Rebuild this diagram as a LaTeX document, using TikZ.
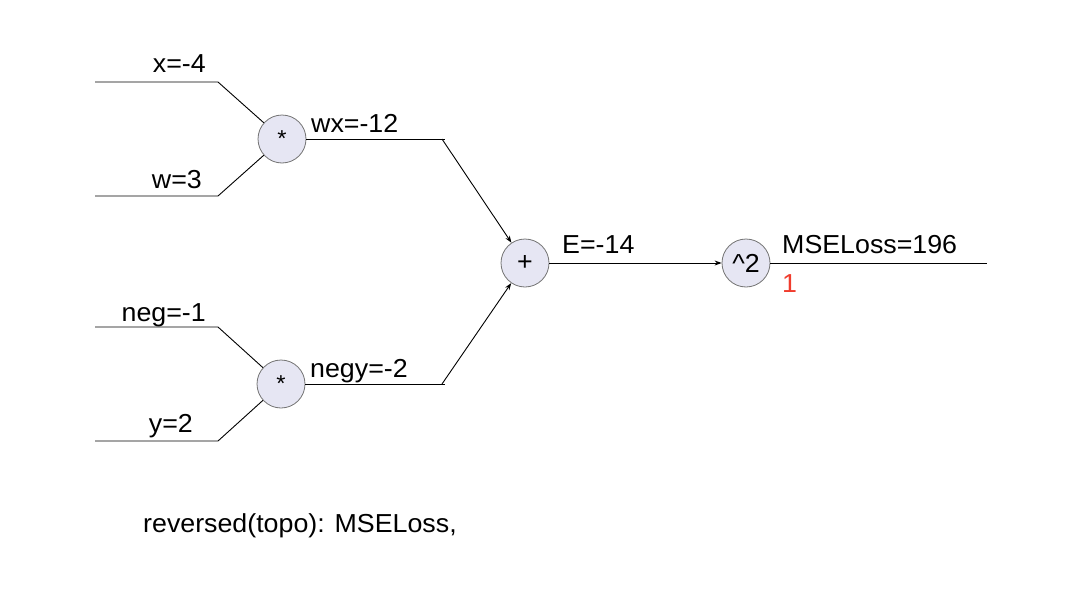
\documentclass[tikz,border=0pt]{standalone}
\usepackage{fontspec}
\setmainfont{Liberation Sans}[FakeStretch=1.03]
\usetikzlibrary{arrows.meta}
\definecolor{opfill}{HTML}{E6E6F3}
\definecolor{opdraw}{HTML}{737373}
\definecolor{gradred}{HTML}{F03C2D}
\tikzset{
  opnode/.style={circle, draw=opdraw, fill=opfill, line width=0.8pt, minimum size=48pt, inner sep=0pt, font=\fontsize{26}{30}\selectfont},
  wire/.style={line width=0.9pt, black},
  arr/.style={wire, -{Stealth[length=7pt,width=5pt]}},
  lbl/.style={inner sep=0pt, font=\fontsize{26}{30}\selectfont},
}
\begin{document}
\begin{tikzpicture}[x=1pt,y=-1pt]
\useasboundingbox (0,0) rectangle (1080,608);
% operator nodes
\node[opnode] (mul1) at (282,139) {\fontsize{23}{24}\selectfont\raisebox{-5pt}{*}};
\node[opnode] (mul2) at (281,384) {\fontsize{23}{24}\selectfont\raisebox{-5pt}{*}};
\node[opnode] (add) at (525,263) {+};
\node[opnode] (sq) at (746,263) {\char`\^2};
% wire coordinates
\coordinate (xa) at (95,82);  \coordinate (xb) at (218,82);
\coordinate (wa) at (95,196); \coordinate (wb) at (218,196);
\coordinate (na) at (95,327); \coordinate (nb) at (218,327);
\coordinate (ya) at (95,441); \coordinate (yb) at (218,441);
\coordinate (wxe) at (445,139); \coordinate (wxk) at (442,139);
\coordinate (nye) at (445,384); \coordinate (nyk) at (442,384);
\coordinate (oute) at (987,263);
% wires
\draw[wire] (xa) -- (xb) -- (mul1);
\draw[wire] (wa) -- (wb) -- (mul1);
\draw[wire] (na) -- (nb) -- (mul2);
\draw[wire] (ya) -- (yb) -- (mul2);
\draw[wire] (mul1) -- (wxe);
\draw[wire] (mul2) -- (nye);
\draw[arr] (wxk) -- (add);
\draw[arr] (nyk) -- (add);
\draw[arr] (add) -- (sq);
\draw[wire] (sq) -- (oute);
% labels
\node[lbl, anchor=base east] (lx) at (206,72) {x=-4};
\node[lbl, anchor=base east] (lw) at (202,188) {w=3};
\node[lbl, anchor=base east] (ln) at (206,321) {neg=-1};
\node[lbl, anchor=base east] (ly) at (193,432) {y=2};
\node[lbl, anchor=base west] (lwx) at (311,132) {wx=-12};
\node[lbl, anchor=base west] (lny) at (310,377) {negy=-2};
\node[lbl, anchor=base west] (lE) at (562,253) {E=-14};
\node[lbl, anchor=base west] (lmse) at (782,253) {MSELoss=196};
\node[lbl, anchor=base west, text=gradred] (lgrad) at (782,292) {1};
\node[lbl, anchor=base west] (ltopo) at (143,532) {reversed(topo): MSELoss,};
\end{tikzpicture}
\end{document}
